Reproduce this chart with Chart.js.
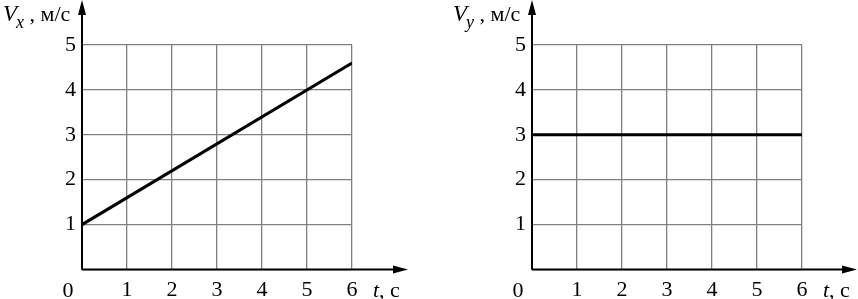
<!DOCTYPE html>
<html>
<head>
<meta charset="utf-8">
<script src="https://cdn.jsdelivr.net/npm/chart.js@4"></script>
<style>
  body { margin: 0; background: #fff; }
  .wrap { position: absolute; top: 0; width: 429px; height: 299px; }
</style>
</head>
<body>
<div class="wrap" style="left:0"><canvas id="vx"></canvas></div>
<div class="wrap" style="left:429px"><canvas id="vy"></canvas></div>
<script>
// time points (s) and velocities (m/s)
const tValues = [0, 6];
const vxValues = [1, 4.6];
const vyValues = [3, 3];
const tTicks = [0, 1, 2, 3, 4, 5, 6];
const vTicks = [0, 1, 2, 3, 4, 5];

const SERIF = "'Liberation Serif', 'Times New Roman', serif";

// axes with arrows, axis titles and the corner zero
const axesPlugin = {
  id: 'axes',
  afterDraw(chart, args, opts) {
    const ctx = chart.ctx;
    const xs = chart.scales.x, ys = chart.scales.y;
    const x0 = xs.getPixelForValue(0), y0 = ys.getPixelForValue(0);
    ctx.save();
    ctx.strokeStyle = '#000';
    ctx.fillStyle = '#000';
    ctx.lineWidth = 2;
    ctx.beginPath();
    ctx.moveTo(x0, y0); ctx.lineTo(opts.arrowX - 8, y0);
    ctx.moveTo(x0, y0); ctx.lineTo(x0, 8);
    ctx.stroke();
    // arrow heads
    ctx.beginPath();
    ctx.moveTo(opts.arrowX, y0);
    ctx.lineTo(opts.arrowX - 15, y0 - 4);
    ctx.lineTo(opts.arrowX - 15, y0 + 4);
    ctx.closePath();
    ctx.fill();
    ctx.beginPath();
    ctx.moveTo(x0, 0);
    ctx.lineTo(x0 - 4, 15);
    ctx.lineTo(x0 + 4, 15);
    ctx.closePath();
    ctx.fill();

    ctx.textBaseline = 'alphabetic';
    ctx.textAlign = 'left';
    // y title: V with subscript, then units
    let x = opts.titleX;
    ctx.font = 'italic 23px ' + SERIF;
    ctx.fillText('V', x, 21);
    x += ctx.measureText('V').width - 1;
    ctx.font = 'italic 18px ' + SERIF;
    ctx.fillText(opts.sub, x, 28);
    x += ctx.measureText(opts.sub).width;
    ctx.font = '22px ' + SERIF;
    ctx.fillText(' , м/с', x, 21);

    // x title: t, c
    x = xs.getPixelForValue(6) + 21;
    ctx.font = 'italic 22px ' + SERIF;
    ctx.fillText('t', x, 297);
    x += ctx.measureText('t').width;
    ctx.font = '22px ' + SERIF;
    ctx.fillText(', с', x, 297);

    // corner zero
    ctx.textAlign = 'center';
    ctx.fillText('0', x0 - 14, 297);
    ctx.restore();
  }
};

function makeChart(id, values, sub, axisWidth, rightPad, arrowX, titleX) {
  return new Chart(document.getElementById(id), {
    type: 'line',
    data: {
      datasets: [{
        data: tValues.map((t, i) => ({ x: t, y: values[i] })),
        borderColor: '#000',
        borderWidth: 3,
        pointRadius: 0,
        fill: false
      }]
    },
    options: {
      responsive: true,
      maintainAspectRatio: false,
      animation: false,
      layout: { padding: { top: 45, right: rightPad, bottom: 0, left: 0 } },
      plugins: {
        legend: { display: false },
        tooltip: { enabled: false },
        axes: { sub, arrowX, titleX }
      },
      scales: {
        x: {
          type: 'linear',
          min: 0, max: 6,
          afterBuildTicks: s => { s.ticks = tTicks.map(v => ({ value: v })); },
          afterFit: s => { s.height = 29.5; },
          grid: { color: '#808080', lineWidth: 1.3, drawTicks: false },
          border: { display: false },
          ticks: {
            padding: 8,
            color: '#000',
            maxRotation: 0,
            font: { family: SERIF, size: 22 },
            callback: v => v === 0 ? '' : String(v)
          }
        },
        y: {
          min: 0, max: 5,
          afterBuildTicks: s => { s.ticks = vTicks.map(v => ({ value: v })); },
          afterFit: s => { s.width = axisWidth; },
          grid: { color: '#808080', lineWidth: 1.3, drawTicks: false },
          border: { display: false },
          ticks: {
            padding: 6,
            color: '#000',
            font: { family: SERIF, size: 22 },
            callback: v => v === 0 ? '' : String(v)
          }
        }
      }
    },
    plugins: [axesPlugin]
  });
}

makeChart('vx', vxValues, 'x', 82, 77, 408, 3);
makeChart('vy', vyValues, 'y', 103, 56, 428, 24);
</script>
</body>
</html>
